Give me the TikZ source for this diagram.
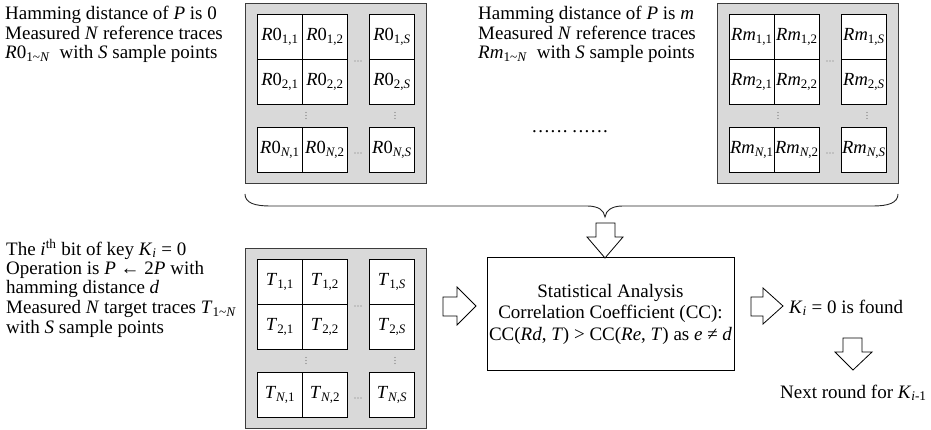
\documentclass[tikz,border=0pt]{standalone}
\usepackage{fontspec}
\setmainfont{Liberation Serif}
\definecolor{panelfill}{RGB}{217,217,217}
\definecolor{panelline}{RGB}{60,60,60}
\newcommand\sixdotsrow{.\kern1.4pt.\kern1.4pt.\kern1.4pt.\kern1.4pt.\kern1.4pt.}
\tikzset{
  txt/.style={font=\fontsize{19}{21}\selectfont, inner sep=0pt, anchor=base west},
  panel/.style={draw=panelline, fill=panelfill, line width=1.3pt, rectangle, inner sep=0pt, anchor=north west},
  cell/.style={draw=black, fill=white, line width=0.8pt, rectangle, minimum width=45pt, minimum height=45pt, inner sep=0pt, font=\fontsize{18.5}{20}\selectfont},
  statbox/.style={draw=black, line width=1pt, rectangle, minimum width=247pt, minimum height=112pt, align=center, inner sep=0pt, font=\fontsize{19}{21.5}\selectfont},
  blockarrow/.style={draw=black, fill=white, line width=0.8pt, line join=miter},
  bracepath/.style={draw=black!85, line width=0.9pt},
  dotf/.style={fill=black!55},
  tracegrid/.pic={
    \node[panel, minimum width=181pt, minimum height=180pt] (-bg) at (0,0) {};
    \foreach \ry/\rl [count=\ri] in {11/1, 56/2, 124/{\textit{N}}}{
      \foreach \cx/\cl [count=\ci] in {12/1, 57/2, 124/{\textit{S}}}{
        \node[cell, anchor=north west] (-c\ri\ci) at (\cx,\ry) {#1\textsubscript{\rl,\cl}};
      }
    }
    \foreach \dd in {-3,0,3}{
      \fill[dotf] (113+\dd,58) circle (0.6pt);
      \fill[dotf] (113+\dd,150) circle (0.6pt);
      \fill[dotf] (61,112.5+\dd) circle (0.6pt);
      \fill[dotf] (150,112.5+\dd) circle (0.6pt);
    }
  }
}
\begin{document}
\begin{tikzpicture}[x=1pt, y=-1pt]
\useasboundingbox (0,0) rectangle (931,430);

% trace panels
\pic (p0) at (245,3) {tracegrid={\textit{R}0}};
\pic (pm) at (717,3) {tracegrid={\textit{Rm}}};
\pic (pt) at (245,248) {tracegrid={\textit{T}}};

% top-left text
\node[txt] (tl1) at (5,20) {Hamming distance of \textit{P} is 0};
\node[txt] (tl2) at (5,39.5) {Measured \textit{N} reference traces};
\node[txt] (tl3) at (5,59) {\textit{R}0\textsubscript{1\textasciitilde\textit{N}}\ \ with \textit{S} sample points};

% top-right text
\node[txt] (tr1) at (478,20) {Hamming distance of \textit{P} is \textit{m}};
\node[txt] (tr2) at (478,39.5) {Measured \textit{N} reference traces};
\node[txt] (tr3) at (478,59) {\textit{Rm}\textsubscript{1\textasciitilde\textit{N}}\ \ with \textit{S} sample points};

\node[txt] (ell) at (532,133) {\sixdotsrow\ \sixdotsrow};

% bottom-left text
\node[txt] (bl1) at (6,255) {The \textit{i}\textsuperscript{th} bit of key \textit{K}\textsubscript{\textit{i}} = 0};
\node[txt] (bl2) at (6,274.5) {Operation is \textit{P} ← 2\textit{P} with};
\node[txt] (bl3) at (6,294) {hamming distance \textit{d}};
\node[txt] (bl4) at (6,313.5) {Measured \textit{N} target traces \textit{T}\textsubscript{1\textasciitilde\textit{N}}};
\node[txt] (bl5) at (6,333) {with \textit{S} sample points};

% statistical analysis box
\node[statbox] (stat) at (610.5,314) {Statistical Analysis\\Correlation Coefficient (CC):\\CC(\textit{Rd}, \textit{T}) > CC(\textit{Re}, \textit{T}) as \textit{e} ≠ \textit{d}};

% results
\node[txt] (found) at (789,313) {\textit{K}\textsubscript{\textit{i}} = 0 is found};
\node[txt] (next) at (780,398) {Next round for \textit{K}\textsubscript{\textit{i}-1}};

% brace
\draw[bracepath] (245,194) .. controls (245,203) and (255,206) .. (270,206) -- (587,206)
  .. controls (598,206) and (604,210) .. (605,217)
  .. controls (606,210) and (612,206) .. (623,206) -- (873,206)
  .. controls (888,206) and (898,203) .. (898,194);

% block arrows
\draw[blockarrow] (596,223) -- (615,223) -- (615,237) -- (623,237) -- (605,258) -- (587,237) -- (596,237) -- cycle;
\draw[blockarrow] (443,297) -- (457,297) -- (457,287) -- (476,306) -- (457,325) -- (457,316) -- (443,316) -- cycle;
\draw[blockarrow] (751,297) -- (763,297) -- (763,288) -- (783,306) -- (763,324) -- (763,316) -- (751,316) -- cycle;
\draw[blockarrow] (843,338) -- (862,338) -- (862,352) -- (872,352) -- (853,370) -- (835,352) -- (843,352) -- cycle;
\end{tikzpicture}
\end{document}
